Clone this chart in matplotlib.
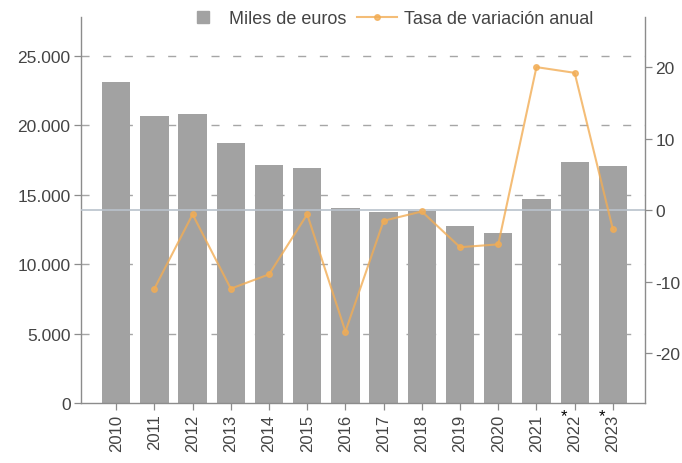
import numpy as np
import matplotlib.pyplot as plt
from matplotlib.ticker import FuncFormatter
from matplotlib.lines import Line2D

plt.rcParams['font.family'] = ['Liberation Sans', 'DejaVu Sans']
plt.rcParams['axes.unicode_minus'] = False

# datos
years = ['2010', '2011', '2012', '2013', '2014', '2015', '2016',
         '2017', '2018', '2019', '2020', '2021', '2022', '2023']
miles_euros = [23100, 20700, 20800, 18730, 17150, 16930, 14050,
               13760, 13830, 12750, 12250, 14700, 17360, 17080]
tasa_var = [np.nan, -11.0, -0.6, -11.0, -9.0, -0.6, -17.0,
            -1.5, -0.2, -5.2, -4.8, 20.0, 19.2, -2.7]
provisional = ['2022', '2023']

bar_color = '#a2a2a2'
line_color = '#f2ad55'
axis_color = '#8c8c8c'
text_color = '#444444'

fig = plt.figure(figsize=(6.82, 4.64), dpi=100)
ax = fig.add_axes([0.1188, 0.1293, 0.8269, 0.8317])
x = np.arange(len(years))

# rejilla discontinua por debajo de las barras
for v in [5000, 10000, 15000, 20000, 25000]:
    ax.axhline(v, color='#a6a6a6', lw=1.0, ls=(0, (5.8, 9.8)), zorder=0)

ax.bar(x, miles_euros, width=0.74, color=bar_color, zorder=2)
ax.set_ylim(0, 27800)
ax.set_xlim(-0.92, 13.84)
ax.set_yticks([0, 5000, 10000, 15000, 20000, 25000])
ax.yaxis.set_major_formatter(FuncFormatter(lambda v, p: f'{int(v):,}'.replace(',', '.')))
ax.set_xticks(x)
ax.set_xticklabels(years, rotation=90)

ax2 = ax.twinx()
ax2.set_ylim(-27, 27)
ax2.set_yticks([-20, -10, 0, 10, 20])
ax2.axhline(0, color='#b9c2cc', lw=1.2, zorder=1)
ax2.plot(x, tasa_var, color=line_color, lw=1.5, marker='o', ms=4,
         alpha=0.8, zorder=3)

for a in (ax, ax2):
    a.spines['top'].set_visible(False)
    for s in ('left', 'right', 'bottom'):
        a.spines[s].set_color(axis_color)
        a.spines[s].set_linewidth(1.0)
    a.tick_params(colors=axis_color, labelcolor=text_color, labelsize=12.5,
                  length=5, width=0.9, pad=2.5)
ax.tick_params(axis='x', labelsize=12)
ax.spines['right'].set_visible(False)
ax2.spines['left'].set_visible(False)
ax2.spines['bottom'].set_visible(False)

# asteriscos para los años provisionales
for yr in provisional:
    i = years.index(yr)
    ax.annotate('*', xy=(i - 0.29, 0), xycoords=('data', 'axes fraction'),
                xytext=(0, -4), textcoords='offset points',
                ha='center', va='top', fontsize=12, color='black')

handles = [Line2D([0], [0], color=bar_color, marker='s', ms=9, ls='none'),
           Line2D([0], [0], color=line_color, lw=1.5, marker='o', ms=4, alpha=0.8)]
fig.legend(handles, ['Miles de euros', 'Tasa de variación anual'],
           loc='center', bbox_to_anchor=(0.569, 0.958), ncol=2, frameon=False,
           fontsize=13, labelcolor=text_color, handlelength=2.2,
           columnspacing=0.6, handletextpad=0.38, borderpad=0)

fig.savefig('out.png', dpi=100)
